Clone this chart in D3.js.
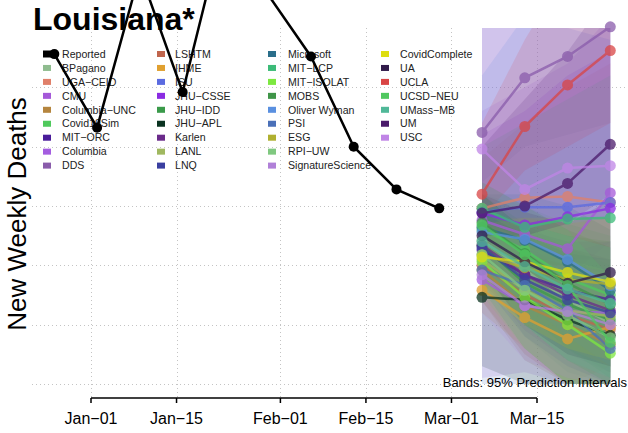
<!DOCTYPE html>
<html>
<head>
<meta charset="utf-8">
<script src="https://cdn.jsdelivr.net/npm/d3@7"></script>
<style>
  body { margin: 0; background: #fff; }
  svg { display: block; font-family: "Liberation Sans", Arial, Helvetica, sans-serif; }
</style>
</head>
<body>
<div id="chart"></div>
<script>
// reported weekly deaths (week ending Saturday)
const reportedDates = ["2020-12-26", "2021-01-02", "2021-01-09", "2021-01-16", "2021-01-23",
  "2021-01-30", "2021-02-06", "2021-02-13", "2021-02-20", "2021-02-27"]
const reportedValues = [278, 216, 347, 246, 391, 328, 276, 200, 164, 148]

const forecastDates = ["2021-03-06", "2021-03-13", "2021-03-20", "2021-03-27"]

const modelNames = ["BPagano", "UGA\u2212CEID", "CMU", "Columbia\u2212UNC", "Covid19Sim", "MIT\u2212ORC",
  "Columbia", "DDS", "LSHTM", "IHME", "ISU", "JHU\u2212CSSE", "JHU\u2212IDD", "JHU\u2212APL", "Karlen",
  "LANL", "LNQ", "Microsoft", "MIT\u2212LCP", "MIT\u2212ISOLAT", "MOBS", "Oliver Wyman", "PSI", "ESG",
  "RPI\u2212UW", "SignatureScience", "CovidComplete", "UA", "UCLA", "UCSD\u2212NEU", "UMass\u2212MB", "UM", "USC"]

const modelColors = ["#8fbc8f", "#e0806a", "#a559d9", "#b5853e", "#4fc95c", "#4a1c9a",
  "#a45de0", "#8a5cab", "#c0654d", "#e0a030", "#5b6be0", "#8a2be2", "#3a9a4a", "#0a3320", "#6a2a8a",
  "#a0b860", "#3a3fa0", "#2a6e8a", "#3cbb78", "#7de840", "#3f9548", "#5a90e0", "#4a70b8", "#b0b030",
  "#80c880", "#b080d8", "#dede10", "#301a4a", "#d94545", "#50c860", "#50b898", "#4a1a6a", "#c085e6"]

// point forecasts, one row per model, columns = forecastDates
const modelMedian = [
  [121, 96, 71, 51], [148, 157, 158, 153], [138, 126, 114, 161], [96, 66, 50, 33],
  [130, 113, 89, 75], [113, 92, 79, 71], [88, 66, 61, 60], [212, 258, 276, 301],
  [100, 75, 58, 46], [79, 56, 38, 48], [145, 149, 149, 153], [144, 134, 141, 148],
  [117, 85, 67, 54], [73, 71, 54, 41], [117, 92, 75, 62], [105, 79, 62, 57],
  [115, 88, 71, 60], [132, 121, 103, 79], [148, 132, 139, 140], [103, 73, 50, 26],
  [136, 110, 85, 67], [128, 122, 105, 83], [96, 83, 62, 30], [109, 98, 88, 84],
  [109, 79, 58, 39], [92, 66, 61, 50], [107, 103, 94, 86], [125, 103, 85, 94],
  [160, 217, 252, 281], [134, 109, 83, 35], [120, 99, 80, 68], [144, 150, 169, 202],
  [198, 164, 182, 184]
]

// 95% prediction interval bounds
const modelLower = [
  [95, 40, 10, 0], [120, 115, 105, 90], [115, 100, 90, 120], [70, 20, 0, 0],
  [100, 60, 30, 10], [85, 50, 25, 10], [5, 10, 0, 0], [170, 200, 210, 220],
  [70, 25, 0, 0], [60, 30, 0, 15], [115, 105, 90, 80], [120, 105, 105, 105],
  [80, 30, 0, 0], [15, 0, 0, 0], [90, 45, 20, 0], [80, 40, 15, 0],
  [85, 40, 15, 0], [105, 70, 40, 15], [115, 90, 85, 75], [75, 30, 0, 0],
  [105, 60, 30, 5], [100, 70, 40, 15], [0, 0, 0, 0], [80, 50, 30, 15],
  [80, 30, 0, 0], [60, 20, 5, 0], [80, 50, 30, 20], [95, 50, 25, 15],
  [140, 180, 200, 220], [100, 50, 20, 0], [90, 50, 20, 5], [125, 125, 135, 160],
  [160, 130, 140, 140]
]
const modelUpper = [
  [150, 135, 115, 100], [190, 220, 250, 270], [230, 250, 270, 310], [125, 100, 90, 80],
  [160, 150, 135, 125], [145, 130, 120, 120], [125, 110, 110, 120], [320, 360, 400, 450],
  [135, 115, 100, 95], [100, 80, 65, 80], [300, 320, 300, 290], [210, 230, 260, 280],
  [160, 135, 125, 120], [105, 110, 100, 95], [145, 125, 115, 105], [130, 110, 95, 95],
  [145, 125, 110, 105], [160, 160, 150, 130], [200, 220, 240, 260], [135, 110, 95, 75],
  [170, 150, 130, 115], [260, 310, 330, 300], [130, 125, 110, 85], [140, 140, 135, 140],
  [140, 120, 105, 95], [125, 100, 100, 95], [135, 140, 140, 140], [160, 145, 135, 155],
  [220, 290, 350, 400], [170, 150, 130, 90], [150, 135, 125, 115], [200, 240, 280, 330],
  [310, 300, 320, 340]
]

const xTickDates = ["2021-01-01", "2021-01-15", "2021-02-01", "2021-02-15", "2021-03-01", "2021-03-15"]
const yGridValues = [0, 50, 100, 150, 200, 250]

const width = 628
const height = 433
const plot = { left: 32, right: 640, top: 28, bottom: 398 }

const parseDate = d3.timeParse("%Y-%m-%d")

const svg = d3.select("#chart")
  .append("svg")
  .attr("width", width)
  .attr("height", height)

const x = d3.scaleTime()
  .domain([parseDate("2021-01-01"), parseDate("2021-03-15")])
  .range([91, 537])

const y = d3.scaleLinear()
  .domain([0, 300])
  .range([384, 28])

// grid
const grid = svg.append("g")
  .attr("stroke", "#c4c4c4")
  .attr("stroke-width", 1)
  .attr("stroke-dasharray", "1,3")

grid.selectAll("line.h")
  .data(yGridValues)
  .join("line")
  .attr("x1", plot.left)
  .attr("x2", plot.right)
  .attr("y1", d => Math.round(y(d)) + 0.5)
  .attr("y2", d => Math.round(y(d)) + 0.5)

grid.selectAll("line.v")
  .data(xTickDates.map(parseDate))
  .join("line")
  .attr("x1", d => Math.round(x(d)) + 0.5)
  .attr("x2", d => Math.round(x(d)) + 0.5)
  .attr("y1", plot.top)
  .attr("y2", plot.bottom)

// legend
const legendNames = ["Reported", ...modelNames]
const legendColors = ["#000", ...modelColors]
const markerX = [43, 157, 268, 381]
const textX = [62, 175, 288, 400]
const legend = svg.append("g")

legendNames.forEach((name, i) => {
  const col = Math.floor(i / 9)
  const row = i % 9
  const ly = 54 + row * 13.95
  if (i === 0) {
    legend.append("rect")
      .attr("x", markerX[col]).attr("y", ly - 3.5)
      .attr("width", 10).attr("height", 7)
      .attr("fill", "#000")
    legend.append("line")
      .attr("x1", markerX[col]).attr("x2", markerX[col] + 12)
      .attr("y1", ly).attr("y2", ly)
      .attr("stroke", "#000").attr("stroke-width", 2.5)
  } else {
    legend.append("rect")
      .attr("x", markerX[col]).attr("y", ly - 3)
      .attr("width", 8).attr("height", 6)
      .attr("fill", legendColors[i])
  }
  legend.append("text")
    .attr("x", textX[col])
    .attr("y", ly)
    .attr("dy", "0.35em")
    .attr("font-size", 10.6)
    .attr("fill", "#222")
    .text(name)
})

// prediction bands
svg.append("clipPath")
  .attr("id", "bandclip")
  .append("rect")
  .attr("x", plot.left).attr("y", y(300))
  .attr("width", plot.right - plot.left).attr("height", y(0) - y(300))

const fDates = forecastDates.map(parseDate)
const band = d3.area()
  .x(d => x(d.date))
  .y0(d => y(d.lo))
  .y1(d => y(d.hi))

const bands = svg.append("g").attr("clip-path", "url(#bandclip)")
modelNames.forEach((name, m) => {
  const pts = fDates.map((date, k) => ({ date, lo: modelLower[m][k], hi: modelUpper[m][k] }))
  bands.append("path")
    .datum(pts)
    .attr("fill", modelColors[m])
    .attr("fill-opacity", 0.16)
    .attr("d", band)
})

// forecast lines
const line = d3.line()
  .x(d => x(d.date))
  .y(d => y(d.v))

const fc = svg.append("g")
modelNames.forEach((name, m) => {
  const pts = fDates.map((date, k) => ({ date, v: modelMedian[m][k] }))
  const g = fc.append("g").attr("opacity", 0.75)
  g.append("path")
    .datum(pts)
    .attr("fill", "none")
    .attr("stroke", modelColors[m])
    .attr("stroke-width", 2.5)
    .attr("d", line)
  g.selectAll("circle")
    .data(pts)
    .join("circle")
    .attr("cx", d => x(d.date))
    .attr("cy", d => y(d.v))
    .attr("r", 5.5)
    .attr("fill", modelColors[m])
})

// reported data
const reported = reportedDates.map((d, i) => ({ date: parseDate(d), v: reportedValues[i] }))
svg.append("path")
  .datum(reported)
  .attr("fill", "none")
  .attr("stroke", "#000")
  .attr("stroke-width", 2.5)
  .attr("d", line)

svg.append("g")
  .selectAll("circle")
  .data(reported)
  .join("circle")
  .attr("cx", d => x(d.date))
  .attr("cy", d => y(d.v))
  .attr("r", 5)
  .attr("fill", "#000")

// x axis
const axis = svg.append("g")
axis.append("line")
  .attr("x1", x(parseDate(xTickDates[0])))
  .attr("x2", x(parseDate(xTickDates[xTickDates.length - 1])))
  .attr("y1", plot.bottom).attr("y2", plot.bottom)
  .attr("stroke", "#000").attr("stroke-width", 1.5)

const fmt = d3.timeFormat("%b\u2212%d")
axis.selectAll("line.tick")
  .data(xTickDates.map(parseDate))
  .join("line")
  .attr("x1", d => x(d)).attr("x2", d => x(d))
  .attr("y1", plot.bottom).attr("y2", plot.bottom + 5)
  .attr("stroke", "#000").attr("stroke-width", 1.5)

axis.selectAll("text")
  .data(xTickDates.map(parseDate))
  .join("text")
  .attr("x", d => x(d))
  .attr("y", 424)
  .attr("text-anchor", "middle")
  .attr("font-size", 16)
  .attr("fill", "#000")
  .text(d => fmt(d))

// titles
svg.append("text")
  .attr("transform", "translate(26,214) rotate(-90)")
  .attr("text-anchor", "middle")
  .attr("font-size", 26)
  .attr("fill", "#000")
  .text("New Weekly Deaths")

svg.append("text")
  .attr("x", 33)
  .attr("y", 30)
  .attr("font-size", 32)
  .attr("font-weight", "bold")
  .attr("fill", "#000")
  .text("Louisiana*")

svg.append("text")
  .attr("x", 627)
  .attr("y", 387)
  .attr("text-anchor", "end")
  .attr("font-size", 13)
  .attr("fill", "#000")
  .text("Bands: 95% Prediction Intervals")
</script>
</body>
</html>
